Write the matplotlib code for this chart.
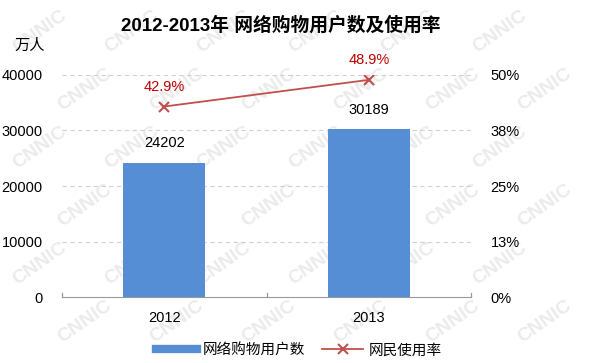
import numpy as np
import matplotlib.pyplot as plt
from matplotlib.lines import Line2D

plt.rcParams['font.family'] = ['Liberation Sans', 'Noto Sans CJK SC', 'DejaVu Sans']

years = ['2012', '2013']
users = [24202, 30189]          # 网络购物用户数 (万人)
rate = [42.9, 48.9]             # 网民使用率 (%)
left_ticks = [0, 10000, 20000, 30000, 40000]
right_ticks = [0, 12.5, 25, 37.5, 50]
right_labels = ['0%', '13%', '25%', '38%', '50%']

fig = plt.figure(figsize=(5.98, 3.63), dpi=100)

# faint CNNIC watermark behind everything
bg = fig.add_axes([0, 0, 1, 1], zorder=-1)
bg.set_xlim(0, 598)
bg.set_ylim(363, 0)
bg.axis('off')
for row, yy in enumerate(range(32, 340, 58)):
    start = 40 if row % 2 == 0 else 85
    for xx in range(start, 565, 92):
        bg.text(xx, yy, 'CNNIC', fontsize=14, color='#ebebeb', rotation=35,
                ha='center', va='center', weight='bold')

ax = fig.add_axes([0.1037, 0.1818, 0.684, 0.6116])
ax.patch.set_visible(False)
x = np.arange(len(years))
ax.bar(x, users, width=0.4, color='#558ed5', zorder=3)
ax.set_xlim(-0.5, 1.5)
ax.set_ylim(0, 40000)
ax.set_yticks(left_ticks)
ax.set_yticklabels([str(v) for v in left_ticks], fontsize=10.5)
ax.set_xticks(x)
ax.set_xticklabels(years, fontsize=10.5)
ax.tick_params(axis='x', length=0, pad=10)
ax.tick_params(axis='y', length=0, pad=14)
for v in left_ticks[1:]:
    ax.axhline(v, color='#d0d0d0', lw=0.8, ls=(0, (4, 3)), zorder=1)
for s in ['top', 'right', 'left']:
    ax.spines[s].set_visible(False)
ax.spines['bottom'].set_color('#999999')
for b in [-0.5, 0.5, 1.5]:
    ax.plot([b, b], [0, 700], color='#999999', lw=0.9, clip_on=False, zorder=4)
for xi, v in zip(x, users):
    ax.text(xi, v + 2200, str(v), ha='center', va='bottom', fontsize=10.5)

ax2 = ax.twinx()
ax2.patch.set_visible(False)
ax2.set_ylim(0, 50)
ax2.set_yticks(right_ticks)
ax2.set_yticklabels(right_labels, fontsize=10.5)
ax2.tick_params(axis='y', length=0, pad=14)
for s in ax2.spines.values():
    s.set_visible(False)
ax2.plot(x, rate, color='#c0504d', lw=1.3, marker='x', markersize=7,
         markeredgewidth=1.5, zorder=5)
for xi, r in zip(x, rate):
    ax2.text(xi, r + 2.8, f'{r}%', ha='center', va='bottom', fontsize=10.5,
             color='#c00000')

fig.text(0.47, 0.93, '2012-2013年 网络购物用户数及使用率', ha='center', va='center',
         fontsize=13.5, weight='bold')
fig.text(0.05, 0.875, '万人', ha='center', va='center', fontsize=11)

handles = [Line2D([0], [0], color='#558ed5', lw=6),
           Line2D([0], [0], color='#c0504d', lw=1.3, marker='x', markersize=7,
                  markeredgewidth=1.5)]
fig.legend(handles, ['网络购物用户数', '网民使用率'], loc='center',
           bbox_to_anchor=(0.5, 0.035), ncol=2, frameon=False, fontsize=10.5,
           handlelength=2.8, columnspacing=1.2, handletextpad=0.4)

fig.savefig('out.png', dpi=100)
